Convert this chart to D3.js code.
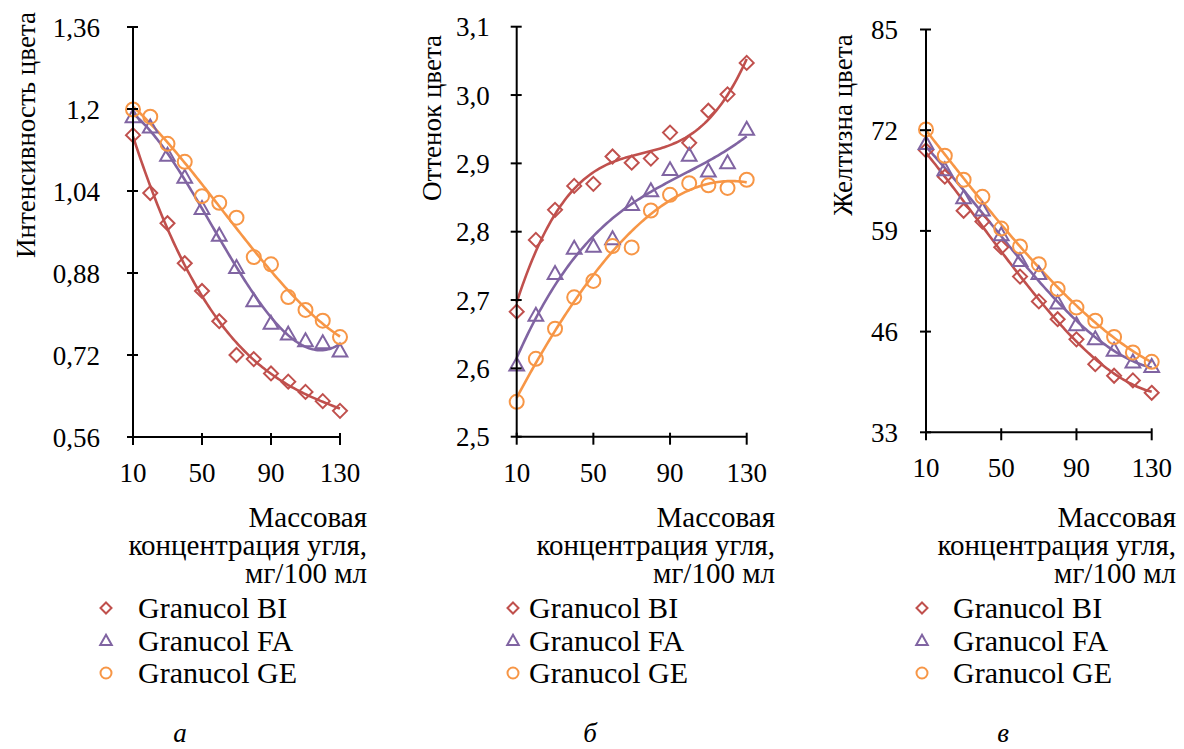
<!DOCTYPE html>
<html><head><meta charset="utf-8">
<script src="https://cdn.jsdelivr.net/npm/d3@7"></script>
</head>
<body style="margin:0">
<svg id="chart" width="1184" height="749"></svg>
<script>
const concentrations = [10,20,30,40,50,60,70,80,90,100,110,120,130];
const seriesNames = ["Granucol BI","Granucol FA","Granucol GE"];
const seriesColors = ["#C0504D","#8064A2","#F79646"];
const seriesSymbols = ["diamond","triangle","circle"];

// Panel а: интенсивность цвета
const intensityBI = [1.149,1.036,0.977,0.899,0.845,0.786,0.720,0.712,0.684,0.668,0.648,0.630,0.611];
const intensityFA = [1.185,1.165,1.110,1.067,1.006,0.954,0.891,0.826,0.782,0.761,0.748,0.744,0.728];
const intensityGE = [1.199,1.185,1.132,1.097,1.030,1.017,0.988,0.911,0.897,0.833,0.808,0.787,0.755];
const intensityTicks = [0.56,0.72,0.88,1.04,1.2,1.36];

// Panel б: оттенок цвета
const hueBI = [2.683,2.788,2.832,2.867,2.870,2.910,2.901,2.907,2.945,2.930,2.977,3.001,3.047];
const hueFA = [2.605,2.678,2.739,2.776,2.779,2.790,2.840,2.860,2.891,2.912,2.889,2.901,2.950];
const hueGE = [2.551,2.614,2.658,2.704,2.728,2.779,2.777,2.831,2.854,2.871,2.868,2.864,2.876];
const hueTicks = [2.5,2.6,2.7,2.8,2.9,3.0,3.1];

// Panel в: желтизна цвета
const yellowBI = [69.4,66.0,61.6,60.2,56.9,53.1,49.9,47.6,45.0,41.8,40.3,39.7,38.1];
const yellowFA = [70.3,66.9,63.3,61.7,58.5,55.2,53.5,49.7,46.9,45.1,43.6,42.1,41.5];
const yellowGE = [72.1,68.7,65.6,63.4,59.3,57.0,54.7,51.5,49.1,47.4,45.3,43.3,42.1];
const yellowTicks = [33,46,59,72,85];

const xTicks = [10,50,90,130];
const xTitleLines = ["Массовая","концентрация угля,","мг/100 мл"];

const panels = [
  {yTitle:"Интенсивность цвета", series:[intensityBI,intensityFA,intensityGE], ticks:intensityTicks,
   fmt:v=>(v===1.2?"1,2":d3.format(".2f")(v).replace(".",",")), domain:[0.56,1.36],
   x0:133, x1:340, yb:437, yt:27, labelGap:33, titleX:35, titleY:135,
   xTitleRight:367, legMark:106, legText:138, letter:"а", letterX:180, deg:3},
  {yTitle:"Оттенок цвета", series:[hueBI,hueFA,hueGE], ticks:hueTicks,
   fmt:v=>d3.format(".1f")(v).replace(".",","), domain:[2.5,3.1],
   x0:516.7, x1:746.7, yb:436.7, yt:26.7, labelGap:27, titleX:441, titleY:118,
   xTitleRight:775, legMark:513, legText:529, letter:"б", letterX:590, deg:3},
  {yTitle:"Желтизна цвета", series:[yellowBI,yellowFA,yellowGE], ticks:yellowTicks,
   fmt:v=>String(v), domain:[33,85],
   x0:926, x1:1151.7, yb:432.3, yt:29.5, labelGap:28, titleX:852, titleY:125,
   xTitleRight:1176, legMark:922, legText:953, letter:"в", letterX:1003, deg:3}
];

function polyfit(xs, ys, deg){
  const n = deg+1;
  const A = Array.from({length:n},()=>new Array(n+1).fill(0));
  xs.forEach((x,k)=>{
    const t=(x-70)/60;
    for(let i=0;i<n;i++){
      for(let j=0;j<n;j++) A[i][j]+=Math.pow(t,i+j);
      A[i][n]+=ys[k]*Math.pow(t,i);
    }
  });
  for(let i=0;i<n;i++){
    let p=i; for(let r=i+1;r<n;r++) if(Math.abs(A[r][i])>Math.abs(A[p][i])) p=r;
    [A[i],A[p]]=[A[p],A[i]];
    for(let r=0;r<n;r++){ if(r===i) continue; const f=A[r][i]/A[i][i]; for(let c=i;c<=n;c++) A[r][c]-=f*A[i][c]; }
  }
  const coef = A.map((row,i)=>row[n]/row[i]);
  return x=>{const t=(x-70)/60; return coef.reduce((s,c,i)=>s+c*Math.pow(t,i),0);};
}

const svg = d3.select("#chart");

function txt(x, y, s, size){
  return svg.append("text").attr("x",x).attr("y",y)
    .style("font-family",'"Times New Roman"')
    .attr("font-size",size).text(s);
}

function drawSymbol(type, cx, cy, size, color, sw){
  if(type==="circle"){
    svg.append("circle").attr("cx",cx).attr("cy",cy).attr("r",size*0.5)
      .attr("fill","none").attr("stroke",color).attr("stroke-width",sw);
  } else if(type==="diamond"){
    const h=size*0.5;
    svg.append("path").attr("d",`M${cx},${cy-h}L${cx+h},${cy}L${cx},${cy+h}L${cx-h},${cy}Z`)
      .attr("fill","none").attr("stroke",color).attr("stroke-width",sw);
  } else {
    const h=size*0.5;
    svg.append("path").attr("d",`M${cx},${cy-h*1.05}L${cx+h*1.05},${cy+h*0.8}L${cx-h*1.05},${cy+h*0.8}Z`)
      .attr("fill","none").attr("stroke",color).attr("stroke-width",sw);
  }
}

panels.forEach(p=>{
  const x = d3.scaleLinear().domain([10,130]).range([p.x0,p.x1]);
  const y = d3.scaleLinear().domain(p.domain).range([p.yb,p.yt]);

  p.series.forEach((vals,si)=>{
    const f = polyfit(concentrations, vals, p.deg);
    const pts = d3.range(0,121,1).map(d=>[10+d, f(10+d)]);
    svg.append("path").datum(pts)
      .attr("d", d3.line().x(d=>x(d[0])).y(d=>y(d[1])))
      .attr("fill","none").attr("stroke",seriesColors[si]).attr("stroke-width",2.6);
  });
  p.series.forEach((vals,si)=>{
    vals.forEach((v,i)=>drawSymbol(seriesSymbols[si], x(concentrations[i]), y(v), 14, seriesColors[si], 2));
  });

  svg.append("line").attr("x1",x(10)).attr("x2",x(10)).attr("y1",y.range()[0]).attr("y2",y.range()[1])
    .attr("stroke","#000").attr("stroke-width",2);
  svg.append("line").attr("x1",x(10)).attr("x2",x(130)).attr("y1",y.range()[0]).attr("y2",y.range()[0])
    .attr("stroke","#000").attr("stroke-width",2);

  p.ticks.forEach(t=>{
    svg.append("line").attr("x1",p.x0-6).attr("x2",p.x0+5).attr("y1",y(t)).attr("y2",y(t))
      .attr("stroke","#000").attr("stroke-width",2);
    txt(p.x0-p.labelGap, y(t)+9.5, p.fmt(t), 27).attr("text-anchor","end");
  });
  xTicks.forEach(t=>{
    svg.append("line").attr("x1",x(t)).attr("x2",x(t)).attr("y1",p.yb-4).attr("y2",p.yb+8)
      .attr("stroke","#000").attr("stroke-width",2);
    txt(x(t), p.yb+45, String(t), 27).attr("text-anchor","middle");
  });

  txt(0, 0, p.yTitle, 27).attr("transform",`translate(${p.titleX},${p.titleY}) rotate(-90)`)
    .attr("text-anchor","middle");
  xTitleLines.forEach((l,i)=>{
    txt(p.xTitleRight, 527+i*28, l, 29).attr("text-anchor","end");
  });
  seriesNames.forEach((n,i)=>{
    const cy = 608 + i*32.5;
    drawSymbol(seriesSymbols[i], p.legMark, cy, 11, seriesColors[i], 2);
    txt(p.legText, cy+10, n, 30);
  });
  txt(p.letterX, 742, p.letter, 27).attr("text-anchor","middle").style("font-style","italic");
});
</script>
</body></html>
